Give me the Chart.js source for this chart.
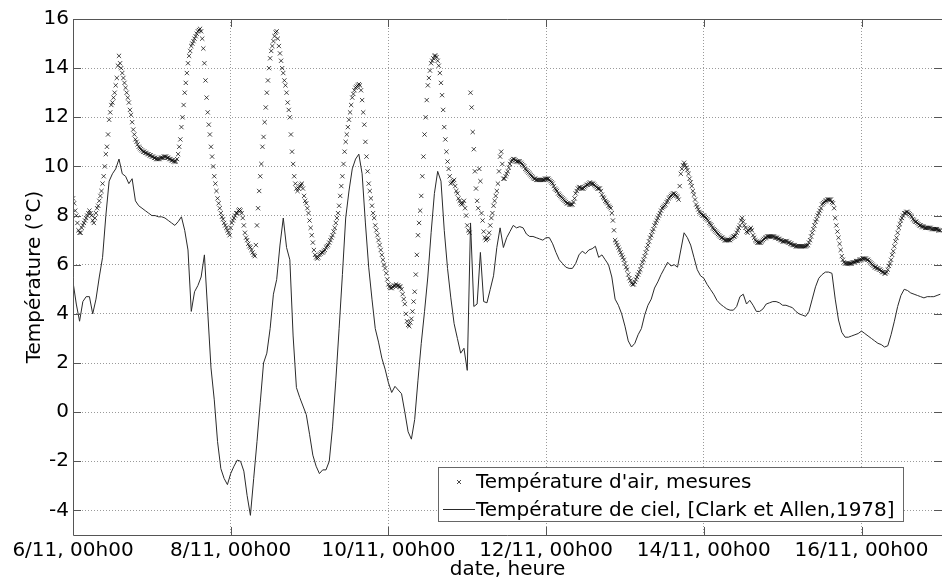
<!DOCTYPE html>
<html lang="fr">
<head>
<meta charset="utf-8">
<title>Température d'air et température de ciel</title>
<script src="https://cdn.jsdelivr.net/npm/chart.js@4.4.1/dist/chart.umd.min.js"></script>
<style>
  html, body { margin: 0; padding: 0; background: #fff; }
  canvas { display: block; }
</style>
</head>
<body>
<canvas id="graphe" width="947" height="584"></canvas>
<script>
// mesures d'air : un point toutes les 20 min, un tableau par jour
const air_06 = [
  8.7, 8.5, 8.2, 8.0, 7.7, 7.4, 7.3, 7.3, 7.5, 7.6, 7.7, 7.8,
  7.9, 8.0, 8.1, 8.2, 8.1, 8.0, 7.8, 7.7, 7.9, 8.1, 8.3, 8.4,
  8.6, 8.8, 9.0, 9.3, 9.6, 10.0, 10.5, 10.8, 11.3, 11.9, 12.2, 12.5,
  12.6, 12.8, 13.0, 13.3, 13.6, 14.1, 14.5, 14.2, 14.0, 13.8, 13.6, 13.4,
  13.2, 13.0, 12.8, 12.6, 12.3, 12.1, 11.8, 11.5, 11.3, 11.1, 11.0, 10.9,
  10.8, 10.75, 10.7, 10.65, 10.6, 10.6, 10.55, 10.55, 10.5, 10.5, 10.45, 10.45
];
const air_07 = [
  10.4, 10.4, 10.35, 10.35, 10.3, 10.3, 10.3, 10.3, 10.35, 10.35, 10.35, 10.4,
  10.4, 10.4, 10.35, 10.35, 10.3, 10.3, 10.25, 10.25, 10.2, 10.2, 10.2, 10.3,
  10.5, 10.8, 11.1, 11.6, 12.0, 12.5, 13.0, 13.4, 13.8, 14.2, 14.5, 14.7,
  14.9, 15.0, 15.1, 15.2, 15.3, 15.4, 15.5, 15.55, 15.6, 15.5, 15.2, 14.8,
  14.2, 13.5, 12.8, 12.2, 11.7, 11.3, 10.8, 10.4, 10.0, 9.6, 9.3, 9.0,
  8.7, 8.5, 8.3, 8.1, 7.95, 7.85, 7.7, 7.6, 7.5, 7.4, 7.3, 7.2
];
const air_08 = [
  7.5, 7.7, 7.8, 7.9, 8.0, 8.1, 8.1, 8.2, 8.25, 8.2, 8.1, 7.9,
  7.6, 7.3, 7.1, 7.0, 6.85, 6.75, 6.7, 6.6, 6.5, 6.4, 6.35, 6.8,
  7.6, 8.3, 9.0, 9.6, 10.1, 10.8, 11.2, 11.8, 12.4, 13.0, 13.5, 14.0,
  14.4, 14.7, 14.9, 15.1, 15.3, 15.45, 15.5, 15.2, 14.9, 14.6, 14.3, 14.0,
  13.8, 13.5, 13.3, 13.0, 12.6, 12.3, 12.0, 11.3, 10.6, 10.1, 9.6, 9.3,
  9.1, 9.0, 9.1, 9.2, 9.25, 9.3, 9.1, 8.8, 8.6, 8.5, 8.3, 8.1
];
const air_09 = [
  7.8, 7.5, 7.2, 6.9, 6.6, 6.4, 6.3, 6.25, 6.3, 6.4, 6.45, 6.5,
  6.5, 6.55, 6.6, 6.7, 6.75, 6.8, 6.9, 7.0, 7.1, 7.2, 7.35, 7.5,
  7.7, 7.9, 8.1, 8.4, 8.8, 9.2, 9.6, 10.1, 10.6, 11.0, 11.3, 11.6,
  11.9, 12.2, 12.5, 12.8, 12.95, 13.1, 13.2, 13.25, 13.3, 13.35, 13.3, 13.1,
  12.7, 12.2, 11.7, 11.0, 10.4, 9.8, 9.3, 9.0, 8.7, 8.4, 8.1, 7.9,
  7.6, 7.4, 7.2, 7.0, 6.8, 6.6, 6.4, 6.2, 6.0, 5.85, 5.65, 5.4
];
const air_10 = [
  5.2, 5.1, 5.05, 5.05, 5.1, 5.15, 5.15, 5.2, 5.15, 5.15, 5.1, 5.1,
  5.0, 4.8, 4.6, 4.4, 4.0, 3.7, 3.55, 3.5, 3.65, 3.8, 4.1, 4.5,
  4.9, 5.6, 6.4, 7.2, 7.7, 8.2, 8.8, 9.6, 10.4, 11.3, 12.0, 12.7,
  13.3, 13.6, 13.9, 14.2, 14.3, 14.4, 14.5, 14.5, 14.45, 14.3, 14.1, 13.8,
  13.4, 12.9, 12.3, 11.6, 11.1, 10.6, 10.2, 9.9, 9.6, 9.3, 9.35, 9.4,
  9.45, 9.2, 9.0, 8.9, 8.7, 8.6, 8.5, 8.45, 8.5, 8.6, 8.3, 8.0
];
const air_11 = [
  7.6, 7.4, 7.3, 13.0, 12.4, 11.4, 10.7, 9.8, 9.1, 8.6, 8.3, 9.9,
  9.4, 8.1, 7.8, 7.35, 7.1, 7.0, 7.05, 7.1, 7.3, 7.6, 7.9, 8.1,
  8.4, 8.6, 8.8, 9.0, 9.3, 9.8, 10.4, 10.6, 10.1, 9.5, 9.5, 9.6,
  9.7, 9.8, 9.95, 10.1, 10.2, 10.25, 10.3, 10.3, 10.25, 10.2, 10.2, 10.2,
  10.2, 10.15, 10.1, 10.05, 10.0, 9.9, 9.85, 9.8, 9.75, 9.7, 9.65, 9.6,
  9.55, 9.5, 9.5, 9.45, 9.45, 9.45, 9.45, 9.45, 9.45, 9.45, 9.45, 9.5
];
const air_12 = [
  9.5, 9.5, 9.5, 9.45, 9.4, 9.35, 9.3, 9.2, 9.1, 9.05, 9.0, 8.9,
  8.85, 8.8, 8.75, 8.7, 8.65, 8.6, 8.55, 8.5, 8.5, 8.45, 8.45, 8.45,
  8.45, 8.55, 8.7, 8.9, 9.0, 9.1, 9.15, 9.15, 9.1, 9.1, 9.1, 9.15,
  9.2, 9.25, 9.25, 9.3, 9.35, 9.3, 9.3, 9.3, 9.25, 9.2, 9.15, 9.1,
  9.1, 9.1, 9.0, 8.85, 8.75, 8.7, 8.6, 8.55, 8.5, 8.4, 8.35, 8.3,
  8.1, 7.8, 7.4, 7.0, 6.9, 6.8, 6.7, 6.6, 6.5, 6.4, 6.3, 6.2
];
const air_13 = [
  6.05, 5.9, 5.8, 5.6, 5.45, 5.35, 5.25, 5.2, 5.2, 5.3, 5.4, 5.5,
  5.6, 5.7, 5.8, 5.95, 6.1, 6.2, 6.35, 6.5, 6.65, 6.8, 6.95, 7.1,
  7.2, 7.35, 7.45, 7.6, 7.7, 7.8, 7.9, 8.0, 8.1, 8.2, 8.3, 8.35,
  8.4, 8.45, 8.55, 8.6, 8.7, 8.75, 8.8, 8.85, 8.9, 8.9, 8.85, 8.8,
  8.75, 8.65, 9.2, 9.7, 9.9, 10.05, 10.15, 10.05, 9.95, 9.85, 9.7, 9.5,
  9.35, 9.2, 9.0, 8.85, 8.65, 8.45, 8.35, 8.25, 8.15, 8.1, 8.05, 8.0
];
const air_14 = [
  8.0, 7.95, 7.9, 7.85, 7.8, 7.7, 7.65, 7.6, 7.5, 7.45, 7.4, 7.35,
  7.3, 7.25, 7.2, 7.15, 7.1, 7.1, 7.05, 7.0, 7.0, 7.0, 7.0, 7.0,
  7.0, 7.05, 7.1, 7.15, 7.15, 7.2, 7.3, 7.4, 7.5, 7.6, 7.8, 7.9,
  7.75, 7.6, 7.5, 7.35, 7.3, 7.4, 7.45, 7.5, 7.4, 7.2, 7.1, 7.0,
  6.95, 6.9, 6.9, 6.9, 6.9, 6.95, 7.0, 7.05, 7.1, 7.1, 7.15, 7.15,
  7.15, 7.15, 7.15, 7.15, 7.15, 7.1, 7.1, 7.1, 7.05, 7.05, 7.0, 7.0
];
const air_15 = [
  6.95, 6.95, 6.95, 6.95, 6.95, 6.9, 6.9, 6.85, 6.85, 6.8, 6.8, 6.8,
  6.75, 6.75, 6.75, 6.75, 6.75, 6.75, 6.75, 6.75, 6.75, 6.75, 6.78, 6.8,
  6.9, 7.0, 7.15, 7.3, 7.45, 7.6, 7.75, 7.85, 8.0, 8.1, 8.2, 8.3,
  8.45, 8.5, 8.55, 8.6, 8.6, 8.65, 8.65, 8.65, 8.65, 8.55, 8.5, 8.3,
  7.9, 7.6, 7.35, 7.1, 6.85, 6.6, 6.35, 6.2, 6.1, 6.05, 6.05, 6.05,
  6.05, 6.05, 6.05, 6.05, 6.1, 6.1, 6.1, 6.15, 6.15, 6.15, 6.2, 6.2
];
const air_16 = [
  6.2, 6.25, 6.25, 6.25, 6.25, 6.2, 6.2, 6.15, 6.1, 6.05, 6.0, 5.95,
  5.9, 5.9, 5.85, 5.85, 5.8, 5.8, 5.75, 5.7, 5.7, 5.65, 5.65, 5.7,
  5.8, 5.95, 6.05, 6.2, 6.4, 6.55, 6.75, 6.95, 7.1, 7.3, 7.5, 7.65,
  7.8, 7.9, 8.0, 8.1, 8.1, 8.15, 8.15, 8.1, 8.05, 8.0, 7.95, 7.85,
  7.8, 7.75, 7.75, 7.7, 7.65, 7.6, 7.6, 7.55, 7.55, 7.55, 7.5, 7.5,
  7.5, 7.5, 7.5, 7.5, 7.45, 7.45, 7.45, 7.45, 7.45, 7.45, 7.4, 7.4,
  7.4
];

// temperature de ciel (Clark et Allen) : un point par heure
const ciel_06 = [5.3, 4.4, 3.7, 4.5, 4.7, 4.7, 4.0, 4.6, 5.5, 6.3, 8.0, 9.4, 9.7, 9.9, 10.3, 9.7, 9.6, 9.3, 9.5, 8.6, 8.4, 8.3, 8.2, 8.1];
const ciel_07 = [8.0, 8.0, 7.95, 7.95, 7.9, 7.8, 7.7, 7.6, 7.75, 7.95, 7.4, 6.6, 4.1, 4.9, 5.15, 5.5, 6.4, 4.1, 1.8, 0.5, -1.2, -2.3, -2.7, -2.95];
const ciel_08 = [-2.5, -2.2, -1.95, -2.0, -2.4, -3.4, -4.2, -2.7, -1.2, 0.4, 2.0, 2.4, 3.4, 4.8, 5.4, 6.8, 7.9, 6.7, 6.2, 3.1, 1.0, 0.6, 0.25, -0.1];
const ciel_09 = [-0.9, -1.75, -2.2, -2.5, -2.35, -2.35, -2.0, -0.6, 1.3, 3.4, 5.6, 7.9, 9.0, 9.9, 10.3, 10.5, 9.7, 7.7, 5.9, 4.6, 3.4, 2.85, 2.2, 1.75];
const ciel_10 = [1.2, 0.8, 1.05, 0.9, 0.75, 0.0, -0.8, -1.1, -0.3, 1.3, 2.8, 4.1, 5.5, 7.3, 8.9, 9.8, 9.4, 7.4, 5.85, 4.65, 3.6, 3.0, 2.4, 2.6];
const ciel_11 = [1.7, 7.7, 4.3, 4.4, 6.5, 4.5, 4.45, 5.0, 5.55, 6.7, 7.5, 6.7, 7.1, 7.35, 7.6, 7.5, 7.55, 7.5, 7.25, 7.15, 7.15, 7.1, 7.05, 7.0];
const ciel_12 = [7.1, 7.1, 6.85, 6.5, 6.2, 6.05, 5.9, 5.85, 5.85, 6.05, 6.4, 6.55, 6.45, 6.6, 6.65, 6.75, 6.3, 6.4, 6.2, 6.0, 5.5, 4.6, 4.35, 4.0];
const ciel_13 = [3.5, 2.9, 2.65, 2.8, 3.15, 3.4, 3.95, 4.35, 4.6, 5.05, 5.3, 5.6, 5.85, 6.1, 5.95, 6.0, 5.9, 6.6, 7.3, 7.1, 6.8, 6.3, 5.8, 5.55];
const ciel_14 = [5.45, 5.2, 5.0, 4.8, 4.55, 4.4, 4.3, 4.2, 4.15, 4.15, 4.3, 4.7, 4.8, 4.4, 4.55, 4.35, 4.1, 4.1, 4.2, 4.4, 4.45, 4.5, 4.5, 4.45];
const ciel_15 = [4.35, 4.35, 4.3, 4.25, 4.1, 4.0, 3.95, 3.9, 4.1, 4.6, 5.1, 5.45, 5.6, 5.7, 5.7, 5.65, 4.6, 3.75, 3.25, 3.05, 3.05, 3.1, 3.15, 3.2];
const ciel_16 = [3.3, 3.2, 3.1, 3.0, 2.9, 2.8, 2.75, 2.65, 2.7, 3.15, 3.7, 4.3, 4.75, 5.0, 4.95, 4.85, 4.8, 4.75, 4.7, 4.65, 4.7, 4.7, 4.7, 4.75, 4.8];

const pas_air = 1 / 3;   // heures
const pas_ciel = 1;
const graduations_x = [0, 48, 96, 144, 192, 240];
const etiquettes_x = ['6/11, 00h00', '8/11, 00h00', '10/11, 00h00', '12/11, 00h00', '14/11, 00h00', '16/11, 00h00'];
const graduations_y = [-4, -2, 0, 2, 4, 6, 8, 10, 12, 14, 16];

const air_mesures = [].concat(air_06, air_07, air_08, air_09, air_10, air_11, air_12, air_13, air_14, air_15, air_16);
const ciel_clark = [].concat(ciel_06, ciel_07, ciel_08, ciel_09, ciel_10, ciel_11, ciel_12, ciel_13, ciel_14, ciel_15, ciel_16);

const police = { family: '"DejaVu Sans", Verdana, sans-serif', size: 20 };
const couleur_croix = 'rgba(0,0,0,0.72)';
const couleur_ligne = '#2a2a2a';
const couleur_cadre = '#555';

// cadre, petites graduations et legende facon matlab
const cadre = {
    id: 'cadre',
    afterDatasetsDraw(chart)
    {
        const { ctx, chartArea: a, scales: { x, y } } = chart;
        ctx.save();
        ctx.strokeStyle = couleur_cadre;
        ctx.lineWidth = 1;
        ctx.beginPath();
        ctx.moveTo(a.left + 0.5, a.bottom + 0.5);
        ctx.lineTo(a.left + 0.5, a.top + 0.5);
        ctx.lineTo(a.right, a.top + 0.5);
        ctx.moveTo(a.left + 0.5, a.bottom + 0.5);
        ctx.lineTo(a.right, a.bottom + 0.5);
        x.ticks.forEach(t => {
            const px = Math.round(x.getPixelForValue(t.value)) + 0.5;
            ctx.moveTo(px, a.bottom);
            ctx.lineTo(px, a.bottom - 8);
            ctx.moveTo(px, a.top);
            ctx.lineTo(px, a.top + 8);
        });
        y.ticks.forEach(t => {
            const py = Math.round(y.getPixelForValue(t.value)) + 0.5;
            ctx.moveTo(a.left, py);
            ctx.lineTo(a.left + 8, py);
            ctx.moveTo(a.right, py);
            ctx.lineTo(a.right - 8, py);
        });
        ctx.stroke();
        ctx.restore();
    },
    afterDraw(chart)
    {
        const { ctx, chartArea: a } = chart;
        const noms = chart.data.datasets.map(d => d.label);
        ctx.save();
        ctx.font = police.size + 'px ' + police.family;
        const tw = Math.max(...noms.map(n => ctx.measureText(n).width));
        const w = Math.round(tw + 46), h = 54;
        const right = a.right - 39, bottom = a.bottom - 14;
        const left = right - w, top = bottom - h;
        ctx.fillStyle = '#fff';
        ctx.fillRect(left, top, w, h);
        ctx.strokeStyle = '#666';
        ctx.lineWidth = 1;
        ctx.strokeRect(left + 0.5, top + 0.5, w, h);

        // croix
        const cx = left + 21, cy = top + 15;
        ctx.strokeStyle = couleur_croix;
        ctx.beginPath();
        ctx.moveTo(cx - 2, cy - 2); ctx.lineTo(cx + 2, cy + 2);
        ctx.moveTo(cx - 2, cy + 2); ctx.lineTo(cx + 2, cy - 2);
        ctx.stroke();
        // trait
        ctx.strokeStyle = couleur_ligne;
        ctx.beginPath();
        ctx.moveTo(left + 5, top + 42.5);
        ctx.lineTo(left + 37, top + 42.5);
        ctx.stroke();

        ctx.fillStyle = '#000';
        ctx.textBaseline = 'middle';
        ctx.textAlign = 'left';
        ctx.fillText(noms[0], left + 38, top + 16);
        ctx.fillText(noms[1], left + 38, top + 43.5);
        ctx.restore();
    }
};

const graphe = document.getElementById('graphe');

const dados = {
    type: 'scatter',
    data: {
        datasets: [
            {
                label: "Température d'air, mesures",
                data: air_mesures.map((t, i) => ({ x: i * pas_air, y: t })),
                showLine: false,
                pointStyle: 'crossRot',
                pointRadius: 3,
                pointBorderWidth: 1,
                borderColor: couleur_croix,
                backgroundColor: couleur_croix
            },
            {
                label: 'Température de ciel, [Clark et Allen,1978]',
                data: ciel_clark.map((t, i) => ({ x: i * pas_ciel, y: t })),
                showLine: true,
                tension: 0,
                pointRadius: 0,
                borderWidth: 1,
                borderColor: couleur_ligne,
                backgroundColor: couleur_ligne
            }
        ]
    },
    options: {
        responsive: false,
        animation: false,
        events: [],
        layout: { padding: { top: 19, left: 0, right: 0, bottom: 0 } },
        plugins: { legend: { display: false }, tooltip: { enabled: false } },
        scales: {
            x: {
                type: 'linear',
                min: 0,
                max: 264.5,
                afterBuildTicks: s => { s.ticks = graduations_x.map(v => ({ value: v })); },
                afterFit: s => { s.height = 49; },
                ticks: {
                    callback: (v, i) => etiquettes_x[i],
                    font: police, color: '#000', padding: 4,
                    maxRotation: 0, autoSkip: false
                },
                grid: { color: '#9a9a9a', lineWidth: 1, drawTicks: false },
                border: { display: false, dash: [1, 2] },
                title: {
                    display: true, text: 'date, heure', font: police, color: '#000',
                    padding: { top: 0, bottom: 2 }
                }
            },
            y: {
                type: 'linear',
                min: -5,
                max: 16,
                afterBuildTicks: s => { s.ticks = graduations_y.map(v => ({ value: v })); },
                afterFit: s => { s.width = 73; },
                ticks: {
                    callback: v => String(v),
                    font: police, color: '#000', padding: 4
                },
                grid: { color: '#9a9a9a', lineWidth: 1, drawTicks: false },
                border: { display: false, dash: [1, 2] },
                title: {
                    display: true, text: 'Température (°C)', font: police, color: '#000',
                    padding: { top: 23, bottom: 0 }
                }
            }
        }
    },
    plugins: [cadre]
};

const grafico = new Chart(graphe, dados);
</script>
</body>
</html>
